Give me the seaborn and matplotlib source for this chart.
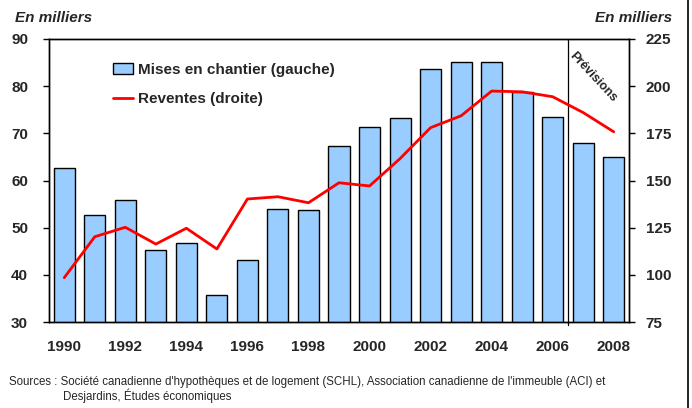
import matplotlib
matplotlib.use("Agg")
import matplotlib.pyplot as plt
from matplotlib.lines import Line2D
import numpy as np
import pandas as pd
import seaborn as sns

# --- data ---
years = list(range(1990, 2009))
mises_en_chantier = [62.7, 52.7, 55.9, 45.2, 46.7, 35.8, 43.1, 53.9, 53.8, 67.3,
                     71.4, 73.3, 83.6, 85.2, 85.2, 78.8, 73.4, 68.0, 65.0]
reventes = [98.5, 120.2, 125.2, 116.3, 124.7, 113.7, 140.2, 141.4, 138.2, 148.8,
            147.1, 161.6, 178.0, 184.3, 197.4, 197.0, 194.4, 186.0, 175.8]
forecast_from = 2007
left_ticks = [30, 40, 50, 60, 70, 80, 90]
right_ticks = [75, 100, 125, 150, 175, 200, 225]

BAR_COLOR  = "#99CCFF"
LINE_COLOR = "#FF0000"

sns.set_style("white")
plt.rcParams["font.family"] = ["Liberation Sans", "DejaVu Sans"]

df = pd.DataFrame({"annee": years, "mises": mises_en_chantier, "reventes": reventes})
df["pos"] = df["annee"] - years[0]

fig = plt.figure(figsize=(6.92, 4.08), dpi=100)
ax = fig.add_axes([49 / 692, 86 / 408, 580 / 692, 283 / 408])

sns.barplot(data=df, x="pos", y="mises", color=BAR_COLOR, edgecolor="black",
            linewidth=1.0, width=0.69, saturation=1, ax=ax, zorder=2,
            label="Mises en chantier (gauche)")
ax.set_ylim(left_ticks[0], left_ticks[-1])
ax.set_yticks(left_ticks)
ax.set_xlim(-0.5, len(years) - 0.5)
ax.set_xticks(df["pos"][::2])
ax.set_xticklabels(df["annee"][::2])
ax.set_xlabel("")
ax.set_ylabel("")

ax2 = ax.twinx()
sns.lineplot(data=df, x="pos", y="reventes", color=LINE_COLOR, lw=2, ax=ax2,
             label="Reventes (droite)", legend=False)
ax2.set_ylim(right_ticks[0], right_ticks[-1])
ax2.set_yticks(right_ticks)
ax2.set_ylabel("")
ax2.set_xlim(-0.5, len(years) - 0.5)

for a in (ax, ax2):
    for s in a.spines.values():
        s.set_color("black")
        s.set_linewidth(1.0)
    a.tick_params(axis="both", labelsize=11, length=4, width=1, color="black",
                  direction="out")
    for lbl in a.get_xticklabels() + a.get_yticklabels():
        lbl.set_fontweight("bold")
ax.tick_params(axis="x", length=0, pad=13)
ax.tick_params(axis="y", left=True, pad=11)
ax2.tick_params(axis="y", right=True, pad=8)

# forecast divider
split = forecast_from - years[0] - 0.5
ax.axvline(split, ymin=-0.012, ymax=1, color="black", lw=0.9, clip_on=False, zorder=3)
ax.text(split + 0.25, 87.6, "Prévisions", rotation=-47, fontsize=9, fontweight="bold",
        ha="left", va="top", rotation_mode="anchor")

# legend
h1, l1 = ax.get_legend_handles_labels()
h2, l2 = ax2.get_legend_handles_labels()
ax.legend(h1 + h2, l1 + l2, loc="upper left", bbox_to_anchor=(0.1, 0.937),
          frameon=False, prop={"size": 11, "weight": "bold"}, handlelength=1.3,
          handleheight=0.65, handletextpad=0.3, labelspacing=0.98, borderaxespad=0)

# units and sources
fig.text(15 / 692, 1 - 18 / 408, "En milliers", fontsize=11, fontweight="bold",
         fontstyle="italic", ha="left", va="center")
fig.text(672 / 692, 1 - 18 / 408, "En milliers", fontsize=11, fontweight="bold",
         fontstyle="italic", ha="right", va="center")
fig.text(9 / 692, 1 - 382 / 408,
         "Sources : Société canadienne d'hypothèques et de logement (SCHL), "
         "Association canadienne de l'immeuble (ACI) et",
         fontsize=8.3, ha="left", va="center")
fig.text(63 / 692, 1 - 396 / 408, "Desjardins, Études économiques",
         fontsize=8.3, ha="left", va="center")

# right frame edge of the original exhibit
fig.add_artist(Line2D([688 / 692, 688 / 692], [0, 1], color="black", lw=1.2))

fig.savefig("out.png", dpi=100)
plt.close(fig)
